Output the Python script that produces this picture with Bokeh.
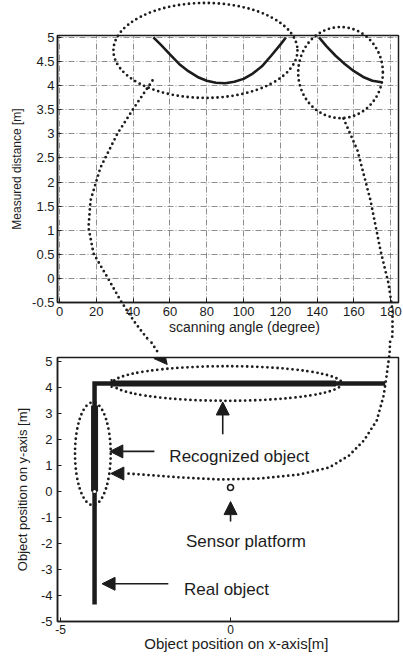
import math
from bokeh.plotting import figure
from bokeh.layouts import column
from bokeh.models import Range1d, FixedTicker, Arrow, NormalHead, Label
from bokeh.core.properties import value
from bokeh.embed import file_html
from bokeh.resources import INLINE

# ---------------- data ----------------
# top chart: measured distance [m] vs scanning angle [deg]
angle_wall_y = [51, 55, 60, 65, 70, 75, 80, 85, 90, 95, 100, 105, 110, 115, 120, 123]
dist_wall_y = [5.0, 4.85, 4.65, 4.45, 4.3, 4.18, 4.1, 4.06, 4.05, 4.08, 4.14, 4.25, 4.4, 4.62, 4.85, 5.0]
angle_wall_x = [141, 145, 150, 155, 160, 165, 170, 175]
dist_wall_x = [5.0, 4.82, 4.62, 4.45, 4.3, 4.18, 4.1, 4.07]
top_xticks = [0, 20, 40, 60, 80, 100, 120, 140, 160, 180]
top_yticks = [-0.5, 0, 0.5, 1, 1.5, 2, 2.5, 3, 3.5, 4, 4.5, 5]

# bottom chart: object positions [m]
real_x = [-4.0, -4.0, 4.55]
real_y = [-4.35, 4.15, 4.15]
recog_v_x = [-4.0, -4.0]
recog_v_y = [0.0, 3.3]
recog_h_x = [-3.5, 3.1]
recog_h_y = [4.15, 4.15]
sensor_x = [0.0]
sensor_y = [0.15]
bottom_xticks = [-5, 0]
bottom_yticks = [-5, -4, -3, -2, -1, 0, 1, 2, 3, 4, 5]

# ---------------- layout (page pixels) ----------------
PAGE_W, PAGE_H = 403, 656
TOP_X = (-1.09, 184.2)
TOP_Y = (-0.5, 5.04)
BOT_X = (-5.09, 4.94)
BOT_Y = (-5.0, 5.15)
TOP_FRAME = (57, 35, 398, 302)   # left, top, right, bottom
BOT_FRAME = (55, 357, 400, 621)
TOP_FIG_Y = 0
BOT_FIG_Y = 340

def to_data(px, py, frame, xr, yr):
    l, t, r, b = frame
    x = xr[0] + (px - l) * (xr[1] - xr[0]) / (r - l)
    y = yr[1] - (py - t) * (yr[1] - yr[0]) / (b - t)
    return x, y

def conv(pts, frame, xr, yr):
    xs, ys = [], []
    for px, py in pts:
        x, y = to_data(px, py, frame, xr, yr)
        xs.append(x)
        ys.append(y)
    return xs, ys

# annotation paths (page pixels)
conn_a_px = [(152, 80), (135, 105), (117, 133), (100, 167), (90, 200), (88, 227), (93, 253),
             (107, 277), (120, 300), (133, 320), (142, 332), (150, 342), (156, 351)]
conn_b_px = [(343, 118), (357, 150), (370, 200), (380, 250), (388, 283), (392, 310), (392, 330),
             (391, 353), (388, 375), (385, 395), (378, 420), (365, 440), (350, 455), (330, 467),
             (300, 474), (260, 478), (220, 479), (180, 477), (140, 474), (124, 473)]

INK = "#1c1c1c"
FONT = "Liberation Sans"
DOT = dict(line_color=INK, line_width=2.8, line_dash="0 5", line_cap="round")


def style_axes(p, tick_font, label_font):
    for ax in (p.xaxis[0], p.yaxis[0]):
        ax.axis_line_color = INK
        ax.axis_line_width = 1.5
        ax.major_tick_in = 4
        ax.major_tick_out = 0
        ax.minor_tick_line_color = None
        ax.major_tick_line_color = INK
        ax.major_label_text_font = FONT
        ax.major_label_text_font_size = tick_font
        ax.major_label_text_color = INK
        ax.axis_label_text_font = FONT
        ax.axis_label_text_font_size = label_font
        ax.axis_label_text_font_style = "normal"
        ax.axis_label_text_color = INK
    p.outline_line_color = INK
    p.outline_line_width = 1.5
    p.outline_line_alpha = 1.0


def axis_title(p, text, px, py, frame, xr, yr, size):
    x, y = to_data(px, py, frame, xr, yr)
    p.text(x=[x], y=[y], text=[text], text_font=value(FONT), text_font_size=value(size),
           text_align="center", text_baseline="middle", text_color=INK, level="overlay")


# ---------------- top figure ----------------
p1 = figure(width=PAGE_W, height=BOT_FIG_Y - TOP_FIG_Y, x_range=Range1d(*TOP_X), y_range=Range1d(*TOP_Y),
            output_backend="svg", toolbar_location=None,
            min_border_left=TOP_FRAME[0], min_border_right=PAGE_W - TOP_FRAME[2],
            min_border_top=TOP_FRAME[1] - TOP_FIG_Y, min_border_bottom=BOT_FIG_Y - TOP_FRAME[3])
p1.xaxis.ticker = FixedTicker(ticks=top_xticks)
p1.yaxis.ticker = FixedTicker(ticks=top_yticks)
p1.xaxis.major_label_overrides = {t: f"{t:g}" for t in top_xticks}
p1.yaxis.major_label_overrides = {t: f"{t:g}" for t in top_yticks}
p1.yaxis.axis_label = "Measured distance [m]"
style_axes(p1, "13px", "12px")
p1.xaxis.major_label_standoff = 4
p1.yaxis.major_label_standoff = 3
p1.yaxis.axis_label_standoff = 5
p1.grid.grid_line_color = "#6a6a6a"
p1.grid.grid_line_dash = "6 2 1 2"
p1.grid.grid_line_width = 1
p1.grid.grid_line_alpha = 0.75
axis_title(p1, "scanning angle (degree)", 244, 326, TOP_FRAME, TOP_X, TOP_Y, "14px")

p1.line(angle_wall_y, dist_wall_y, line_color=INK, line_width=2.6)
p1.line(angle_wall_x, dist_wall_x, line_color=INK, line_width=2.6)
# dotted highlight ellipses
p1.ellipse(x=[79.3], y=[4.73], width=[100], height=[1.97], fill_alpha=0, level="overlay", **DOT)
p1.ellipse(x=[152.7], y=[4.27], width=[46], height=[1.89], fill_alpha=0, level="overlay", **DOT)
xa, ya = conv(conn_a_px, TOP_FRAME, TOP_X, TOP_Y)
p1.line(xa, ya, level="overlay", **DOT)
xb, yb = conv(conn_b_px, TOP_FRAME, TOP_X, TOP_Y)
p1.line(xb, yb, level="overlay", **DOT)

# ---------------- bottom figure ----------------
p2 = figure(width=PAGE_W, height=PAGE_H - BOT_FIG_Y, x_range=Range1d(*BOT_X), y_range=Range1d(*BOT_Y),
            output_backend="svg", toolbar_location=None,
            min_border_left=BOT_FRAME[0], min_border_right=PAGE_W - BOT_FRAME[2],
            min_border_top=BOT_FRAME[1] - BOT_FIG_Y, min_border_bottom=PAGE_H - BOT_FRAME[3])
p2.xaxis.ticker = FixedTicker(ticks=bottom_xticks)
p2.yaxis.ticker = FixedTicker(ticks=bottom_yticks)
p2.xaxis.major_label_overrides = {t: f"{t:g}" for t in bottom_xticks}
p2.yaxis.major_label_overrides = {t: f"{t:g}" for t in bottom_yticks}
p2.yaxis.axis_label = "Object position on y-axis [m]"
style_axes(p2, "13px", "13px")
p2.xaxis.major_label_text_font_size = "12px"
p2.xaxis.major_label_standoff = 3
p2.yaxis.major_label_standoff = 5
p2.yaxis.axis_label_standoff = 8
p2.grid.visible = False
axis_title(p2, "Object position on x-axis[m]", 236, 643, BOT_FRAME, BOT_X, BOT_Y, "15px")

# real object (L-shaped wall) and recognized segments
p2.line(real_x, real_y, line_color=INK, line_width=4.5, line_join="miter")
p2.line(recog_v_x, recog_v_y, line_color=INK, line_width=7)
p2.line(recog_h_x, recog_h_y, line_color=INK, line_width=6)
p2.scatter([recog_v_x[0]], [recog_v_y[0]], marker="circle", size=3, fill_color="white", line_color=None)
p2.scatter([recog_h_x[0]], [recog_h_y[0]], marker="dash", angle=math.pi / 2, size=9,
           line_color=INK, line_width=2)
p2.scatter(sensor_x, sensor_y, marker="circle", size=6, fill_color="white", line_color=INK, line_width=1.6)

# dotted highlight ellipses
p2.ellipse(x=[-4.05], y=[1.45], width=[1.05], height=[3.95], fill_alpha=0, level="overlay", **DOT)
p2.ellipse(x=[-0.1], y=[4.15], width=[6.75], height=[1.33], fill_alpha=0, level="overlay", **DOT)
xa2, ya2 = conv(conn_a_px, BOT_FRAME, BOT_X, BOT_Y)
p2.line(xa2, ya2, level="overlay", **DOT)
xb2, yb2 = conv(conn_b_px, BOT_FRAME, BOT_X, BOT_Y)
p2.line(xb2, yb2, level="overlay", **DOT)


def head():
    return NormalHead(size=13, fill_color=INK, line_color=INK)


def arrow(p, x0, y0, x1, y1, show_line=True):
    p.add_layout(Arrow(end=head(), x_start=x0, y_start=y0, x_end=x1, y_end=y1,
                       line_color=INK, line_width=1.6, line_alpha=1.0 if show_line else 0.0))


# arrowheads of the dotted connectors
ax0, ay0 = to_data(151, 346, BOT_FRAME, BOT_X, BOT_Y)
ax1, ay1 = to_data(166, 364, BOT_FRAME, BOT_X, BOT_Y)
arrow(p2, ax0, ay0, ax1, ay1, show_line=False)
bx0, by0 = to_data(128, 473, BOT_FRAME, BOT_X, BOT_Y)
bx1, by1 = to_data(109, 473, BOT_FRAME, BOT_X, BOT_Y)
arrow(p2, bx0, by0, bx1, by1, show_line=False)

# solid pointer arrows
arrow(p2, -0.23, 2.2, -0.23, 3.44)
arrow(p2, -2.24, 1.54, -3.55, 1.54)
arrow(p2, 0.0, -1.16, 0.0, -0.39)
arrow(p2, -1.83, -3.55, -3.78, -3.55)

for txt, x, y in [("Recognized object", -1.8, 1.35),
                  ("Sensor platform", -1.31, -1.93),
                  ("Real object", -1.37, -3.78)]:
    p2.add_layout(Label(x=x, y=y, text=txt, text_font=FONT, text_font_size="17px",
                        text_baseline="middle", text_align="left", text_color=INK))

layout = column(p1, p2, spacing=0)
open("out.html", "w").write(file_html(layout, INLINE))
